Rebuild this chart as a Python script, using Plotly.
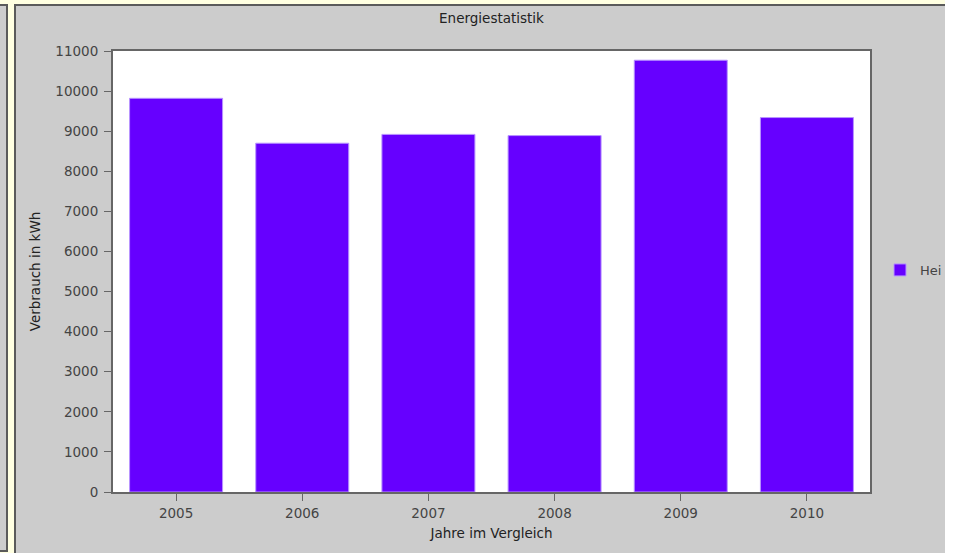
import plotly.graph_objects as go

# Yearly consumption figures
years = ["2005", "2006", "2007", "2008", "2009", "2010"]
verbrauch_kwh = [9820, 8700, 8920, 8890, 10770, 9340]
serie_name = "Hei"

y_ticks = list(range(0, 11001, 1000))

# Figure geometry in pixels
W, H = 945, 553
L, R, T, B = 113, 870, 51, 492


def px_x(px):
    return (px - L) / (R - L)


def px_y(py):
    return (B - py) / (B - T)


FONT = "DejaVu Sans"
BG_YELLOW = "#FFFFE1"
PANEL = "#CCCCCC"
EDGE = "#5A5A5A"

fig = go.Figure()
fig.add_trace(go.Bar(
    x=years,
    y=verbrauch_kwh,
    name=serie_name,
    marker=dict(color="#6600FF", line=dict(color="#B894FF", width=1)),
    showlegend=True,
))

shapes = [
    # narrow strip on the far left
    dict(type="rect", xref="paper", yref="paper",
         x0=px_x(-3), x1=px_x(7), y0=px_y(551), y1=px_y(5),
         fillcolor=PANEL, line=dict(color=EDGE, width=2), layer="below"),
    # main chart panel
    dict(type="rect", xref="paper", yref="paper",
         x0=px_x(15), x1=px_x(960), y0=px_y(570), y1=px_y(5),
         fillcolor=PANEL, line=dict(color=EDGE, width=2), layer="below"),
    # white plotting area on top of the panel
    dict(type="rect", xref="paper", yref="paper",
         x0=0, x1=1, y0=0, y1=1,
         fillcolor="white", line=dict(width=0), layer="below"),
]

fig.update_layout(
    width=W, height=H,
    margin=dict(l=L, r=W - R, t=T, b=H - B, autoexpand=False),
    paper_bgcolor=BG_YELLOW,
    plot_bgcolor="white",
    font=dict(family=FONT, size=13.5, color="#444444"),
    title=dict(text="Energiestatistik", x=0.5, xref="paper",
               y=1 - 18 / H, yref="container", yanchor="middle", xanchor="center",
               font=dict(family=FONT, size=13.5, color="#222222")),
    bargap=0.263,
    shapes=shapes,
    legend=dict(x=px_x(880), y=px_y(270), xref="paper", yref="paper",
                xanchor="left", yanchor="middle",
                bgcolor="rgba(0,0,0,0)", borderwidth=0,
                font=dict(family=FONT, size=13, color="#444444")),
    xaxis=dict(
        type="category",
        title=dict(text="Jahre im Vergleich", standoff=8,
                   font=dict(family=FONT, size=13.5, color="#222222")),
        showline=True, linecolor="#666666", linewidth=2, mirror=True,
        ticks="outside", ticklen=7, tickcolor="#666666", tickwidth=1,
        ticklabelstandoff=1,
        showgrid=False, automargin=False,
    ),
    yaxis=dict(
        range=[0, 11000],
        tickvals=y_ticks,
        tickformat="d",
        title=dict(text="Verbrauch in kWh", standoff=12,
                   font=dict(family=FONT, size=13.5, color="#222222")),
        showline=True, linecolor="#666666", linewidth=2, mirror=True,
        ticks="outside", ticklen=7, tickcolor="#666666", tickwidth=1,
        ticklabelstandoff=3,
        showgrid=False, zeroline=False, automargin=False,
    ),
)

fig.write_html("out.html")
